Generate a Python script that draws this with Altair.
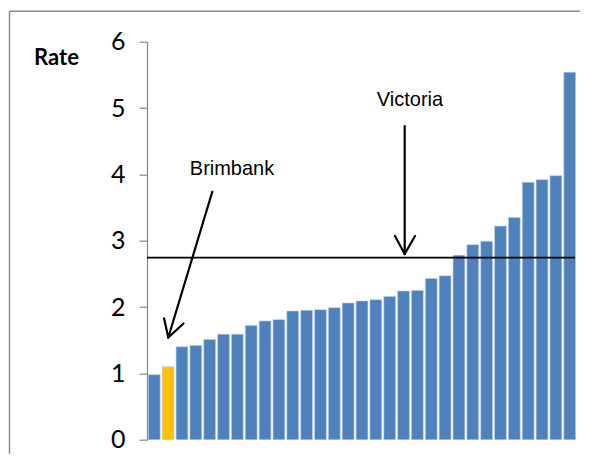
import altair as alt
import pandas as pd

# Data
categories = [f"LGA {i+1:02d}" for i in range(31)]
rates = [0.98, 1.10, 1.40, 1.42, 1.51, 1.59, 1.59, 1.72, 1.79, 1.81, 1.94,
         1.95, 1.96, 1.99, 2.06, 2.09, 2.11, 2.16, 2.24, 2.25, 2.43, 2.47,
         2.78, 2.94, 2.99, 3.22, 3.35, 3.88, 3.92, 3.98, 5.54]
highlight = ["Other"] * 31
highlight[1] = "Brimbank"
victoria_rate = [2.745]
y_ticks = [0, 1, 2, 3, 4, 5, 6]

df = pd.DataFrame({"lga": categories, "rate": rates, "group": highlight})
vic = pd.DataFrame({"rate": victoria_rate})

W, H = 430, 398
PAD = {"left": 139, "top": 33.7, "right": 7, "bottom": 18}

yscale = alt.Scale(domain=[0, 6], nice=False, zero=True)

bars = alt.Chart(df).mark_bar(stroke="#b9cde6", strokeWidth=0.6).encode(
    x=alt.X("lga:N", sort=None, axis=None,
            scale=alt.Scale(paddingInner=0.15, paddingOuter=0.1)),
    y=alt.Y("rate:Q", scale=yscale,
            axis=alt.Axis(values=y_ticks, format="d", grid=False,
                          domainColor="#868686",
                          tickColor="#868686", tickSize=8, domainWidth=1.2,
                          tickWidth=1.2, labelFont="Lato", labelFontSize=25,
                          labelColor="#000000", labelPadding=14,
                          title="Rate", titleAngle=0, titleFont="Lato",
                          titleFontSize=22, titleFontWeight="bold",
                          titleColor="#000000", titleAlign="center",
                          titleBaseline="alphabetic", titleX=-91, titleY=23)),
    color=alt.Color("group:N",
                    scale=alt.Scale(domain=["Other", "Brimbank"],
                                    range=["#4f81bd", "#ffc000"]),
                    legend=None),
)

line = alt.Chart(vic).mark_rule(color="#000000", strokeWidth=1.6).encode(
    y=alt.Y("rate:Q", scale=yscale),
    x=alt.value(0), x2=alt.value(428),
)

# Border of the chart area (decoration): only left and top edges are visible;
# kept a little inside the SVG so the page does not scroll
def edge(x1, y1, x2, y2):
    return alt.Chart(vic).mark_rule(color="#8c8c8c", strokeWidth=1.5,
                                    clip=False).encode(
        x=alt.value(x1), y=alt.value(y1), x2=alt.value(x2), y2=alt.value(y2))

right_lim = W + PAD["right"] - 4
bottom_lim = H + PAD["bottom"] - 4
borders = [edge(-137.5, -30.5, -137.5, bottom_lim),
           edge(-137.5, -30.5, right_lim, -30.5)]

def seg(x1, y1, x2, y2):
    return alt.Chart(vic).mark_rule(color="#000000", strokeWidth=2.2,
                                    strokeCap="round").encode(
        x=alt.value(x1), y=alt.value(y1), x2=alt.value(x2), y2=alt.value(y2))

ox, oy = 147, 41.7
arrows = [
    # Victoria arrow
    seg(404.7 - ox, 126 - oy, 404.7 - ox, 254 - oy),
    seg(395 - ox, 236 - oy, 404.7 - ox, 254 - oy),
    seg(415 - ox, 236 - oy, 404.7 - ox, 254 - oy),
    # Brimbank arrow
    seg(212.3 - ox, 191.7 - oy, 168.3 - ox, 337.5 - oy),
    seg(164 - ox, 318.3 - oy, 168.3 - ox, 337.5 - oy),
    seg(183.5 - ox, 323.5 - oy, 168.3 - ox, 337.5 - oy),
]

def label(txt, cx, cy):
    return alt.Chart(vic).mark_text(font="Liberation Sans", fontSize=20,
                                    color="#000000", align="center",
                                    baseline="middle").encode(
        x=alt.value(cx), y=alt.value(cy), text=alt.value(txt))

labels = [label("Victoria", 410 - ox, 100 - oy),
          label("Brimbank", 232 - ox, 169 - oy)]

chart = alt.layer(*borders, bars, line, *arrows, *labels).properties(
    width=W, height=H,
    autosize=alt.AutoSizeParams(type="none"),
    padding=PAD,
).configure_view(stroke=None)

chart.save("out.html", embed_options={"renderer": "svg", "actions": False})
